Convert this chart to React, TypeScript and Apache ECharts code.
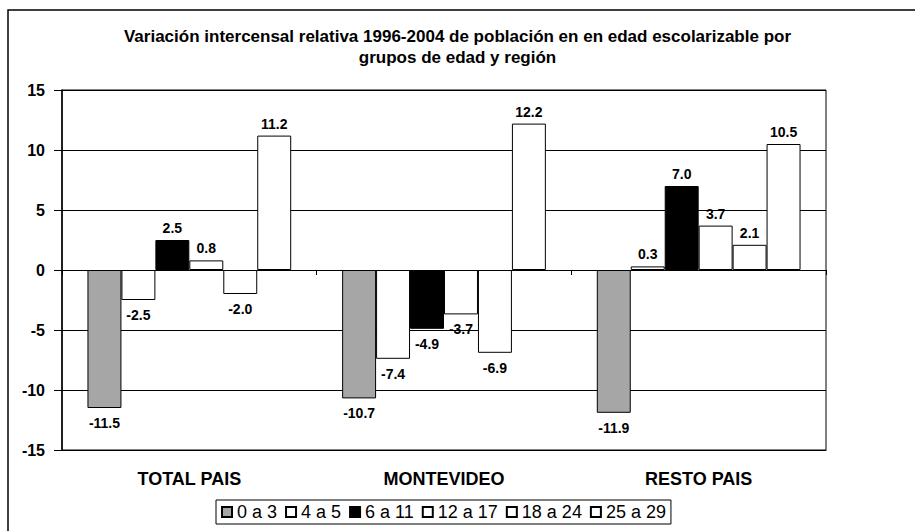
import React, { useEffect, useRef } from "react";
import * as echarts from "echarts";

const categories = ["TOTAL PAIS", "MONTEVIDEO", "RESTO PAIS"];
const seriesNames = ["0 a 3", "4 a 5", "6 a 11", "12 a 17", "18 a 24", "25 a 29"];
const age0to3 = [-11.5, -10.7, -11.9];
const age4to5 = [-2.5, -7.4, 0.3];
const age6to11 = [2.5, -4.9, 7.0];
const age12to17 = [0.8, -3.7, 3.7];
const age18to24 = [-2.0, -6.9, 2.1];
const age25to29 = [11.2, 12.2, 10.5];
const yMin = -15;
const yMax = 15;
const yInterval = 5;
const seriesColors = ["#A6A6A6", "#FFFFFF", "#000000", "#FFFFFF", "#FFFFFF", "#FFFFFF"];
const titleText =
  "Variación intercensal relativa 1996-2004 de población en en edad escolarizable por\ngrupos de edad y región";

const FONT = "'Liberation Sans', Arial, sans-serif";

export default function App() {
  const ref = useRef<HTMLDivElement>(null);
  useEffect(() => {
    if (!ref.current) return;
    const chart = echarts.init(ref.current, null, { renderer: "svg" });
    const allValues = [age0to3, age4to5, age6to11, age12to17, age18to24, age25to29];
    const series = allValues.map((vals, i) => ({
      name: seriesNames[i],
      type: "bar",
      xAxisIndex: 0,
      barGap: "0%",
      barCategoryGap: "20%",
      itemStyle: { color: seriesColors[i], borderColor: "#000", borderWidth: 1 },
      label: {
        show: true,
        color: "#000",
        fontWeight: "bold",
        fontSize: 14,
        fontFamily: FONT,
        formatter: (p: any) => Number(p.value).toFixed(1),
      },
      data: vals.map((v) => ({
        value: v,
        label: { position: v >= 0 ? "top" : "bottom", distance: v >= 0 ? 5 : 8 },
      })),
    }));
    chart.setOption({
      animation: false,
      backgroundColor: "#fff",
      textStyle: { fontFamily: FONT },
      title: {
        text: titleText,
        left: "center",
        top: 21,
        textStyle: { fontSize: 17, fontWeight: "bold", color: "#000", lineHeight: 21, fontFamily: FONT },
      },
      graphic: [
        {
          type: "rect",
          z: -1,
          shape: { x: 8, y: 10, width: 940, height: 560 },
          style: { fill: "none", stroke: "#000", lineWidth: 1.5 },
        },
      ],
      legend: {
        data: seriesNames,
        left: 216,
        top: 500,
        icon: "rect",
        itemWidth: 10,
        itemHeight: 10,
        itemGap: 8,
        borderColor: "#000",
        borderWidth: 1,
        padding: [3, 5],
        textStyle: { fontSize: 18, color: "#000", fontFamily: FONT },
      },
      grid: {
        left: 62,
        top: 90,
        width: 764,
        height: 360,
        show: true,
        borderColor: "#000",
        borderWidth: 1,
        backgroundColor: "transparent",
      },
      xAxis: [
        {
          type: "category",
          data: categories,
          position: "bottom",
          axisLine: { onZero: false, lineStyle: { color: "#000", width: 1 } },
          axisTick: { show: false },
          axisLabel: { color: "#000", fontWeight: "bold", fontSize: 18, margin: 20, fontFamily: FONT },
          splitLine: { show: false },
        },
        {
          type: "category",
          data: categories,
          position: "bottom",
          axisLine: { show: true, onZero: true, lineStyle: { color: "#000", width: 1 } },
          axisTick: { show: true, length: 5, lineStyle: { color: "#000" } },
          axisLabel: { show: false },
          splitLine: { show: false },
        },
      ],
      yAxis: {
        type: "value",
        min: yMin,
        max: yMax,
        interval: yInterval,
        axisLine: { show: true, lineStyle: { color: "#000", width: 1.5 } },
        axisTick: { show: true, length: 8, lineStyle: { color: "#000" } },
        axisLabel: { color: "#000", fontWeight: "bold", fontSize: 16, margin: 17, fontFamily: FONT },
        splitLine: { show: true, lineStyle: { color: "#000", width: 1 } },
      },
      series,
    });
    return () => chart.dispose();
  }, []);
  return (
    <div
      ref={ref}
      style={{ position: "fixed", left: 0, top: 0, width: 915, height: 531, background: "#fff" }}
    />
  );
}
